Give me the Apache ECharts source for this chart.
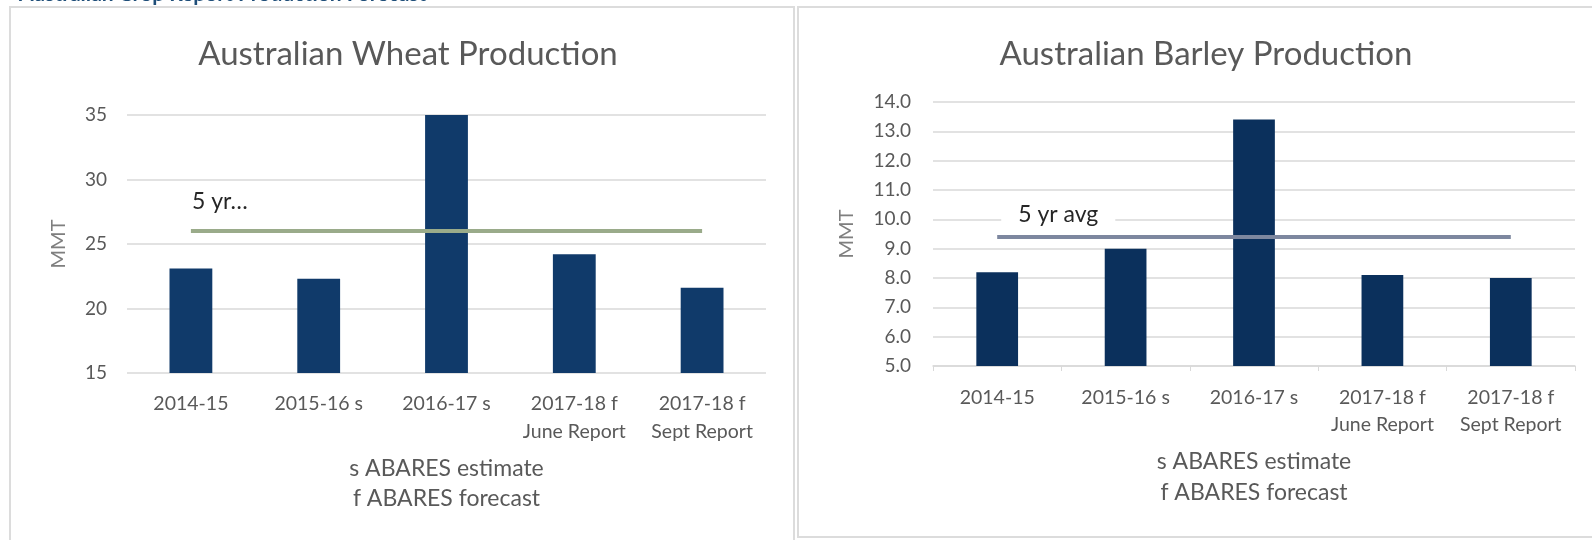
<!DOCTYPE html>
<html>
<head>
  <title>Australian Wheat and Barley Production</title>
  <meta http-equiv="Content-Type" content="text/html; charset=utf-8">
  <script src="https://cdn.jsdelivr.net/npm/echarts@6/dist/echarts.min.js"></script>
  <style>
    body { margin: 0; background: #fff; }
  </style>
</head>
<body>
  <div id="chart" style="width: 1592px;height:540px;"></div>
  <script type="application/javascript">
      var categories = ['2014-15', '2015-16 s', '2016-17 s', '2017-18 f\nJune Report', '2017-18 f\nSept Report'];
      var wheatValues = [23.1, 22.3, 35.0, 24.2, 21.6];
      var wheatAvg = [26.0, 26.0, 26.0, 26.0, 26.0];
      var barleyValues = [8.2, 9.0, 13.4, 8.1, 8.0];
      var barleyAvg = [9.4, 9.4, 9.4, 9.4, 9.4];
      var wheatLabel = '5 yr…';
      var barleyLabel = '5 yr avg';
      var footnote = 's ABARES estimate\nf ABARES forecast';

      var font = 'Lato, "Open Sans", sans-serif';
      var grey = '#595959';

      // only the first point of the average line carries the text
      function avgData(values, label) {
          return values.map(function (v, i) {
              if (i === 0) return { value: v, label: label };
              return v;
          });
      }

      var myChart = echarts.init(document.getElementById('chart'));
      myChart.setOption({
          animation: false,
          textStyle: { fontFamily: font },
          title: [
              {
                  text: 'Australian Crop Report Production Forecast',
                  left: 14, top: -21,
                  textStyle: { fontSize: 21, fontWeight: 'bold', color: '#1f4e79', fontFamily: font }
              },
              {
                  text: 'Australian Wheat Production',
                  left: 403, top: 33, textAlign: 'center',
                  textStyle: { fontSize: 33, fontWeight: 'normal', color: grey, fontFamily: font }
              },
              {
                  text: 'Australian Barley Production',
                  left: 1201, top: 33, textAlign: 'center',
                  textStyle: { fontSize: 33, fontWeight: 'normal', color: grey, fontFamily: font }
              }
          ],
          graphic: [
              { type: 'rect', shape: { x: 10, y: 7, width: 784, height: 560 },
                style: { fill: 'none', stroke: '#dcdcdc', lineWidth: 2 } },
              { type: 'rect', shape: { x: 798, y: 7, width: 830, height: 530 },
                style: { fill: 'none', stroke: '#dcdcdc', lineWidth: 2 } }
          ],
          grid: [
              { left: 127, right: 826, top: 115, bottom: 167 },
              { left: 933, right: 17, top: 102, bottom: 174 }
          ],
          xAxis: [
              {
                  type: 'category', gridIndex: 0, data: categories,
                  axisLine: { show: false }, axisTick: { show: false },
                  axisLabel: { color: grey, fontSize: 19.5, lineHeight: 28, margin: 17, interval: 0 },
                  name: footnote, nameLocation: 'middle', nameGap: 81,
                  nameTextStyle: { color: grey, fontSize: 23, lineHeight: 30 }
              },
              {
                  type: 'category', gridIndex: 1, data: categories,
                  axisLine: { show: true, lineStyle: { color: '#d9d9d9', width: 1.5 } },
                  axisTick: { show: true, length: 5, interval: 0, lineStyle: { color: '#d9d9d9' } },
                  axisLabel: { color: grey, fontSize: 19.5, lineHeight: 27, margin: 18, interval: 0 },
                  name: footnote, nameLocation: 'middle', nameGap: 80,
                  nameTextStyle: { color: grey, fontSize: 23, lineHeight: 31 }
              }
          ],
          yAxis: [
              {
                  type: 'value', gridIndex: 0, min: 15, max: 35, interval: 5,
                  axisLabel: { color: grey, fontSize: 19, margin: 20 },
                  splitLine: { lineStyle: { color: '#d9d9d9', width: 1.5 } },
                  name: 'MMT', nameLocation: 'middle', nameGap: 58,
                  nameTextStyle: { color: '#7f7f7f', fontSize: 20 }
              },
              {
                  type: 'value', gridIndex: 1, min: 5, max: 14, interval: 1,
                  axisLabel: { color: grey, fontSize: 19, margin: 22,
                      formatter: function (v) { return v.toFixed(1); } },
                  splitLine: { lineStyle: { color: '#d9d9d9', width: 1.5 } },
                  name: 'MMT', nameLocation: 'middle', nameGap: 76,
                  nameTextStyle: { color: '#7f7f7f', fontSize: 20 }
              }
          ],
          series: [
              {
                  type: 'bar', xAxisIndex: 0, yAxisIndex: 0, data: wheatValues,
                  barWidth: '33.5%', itemStyle: { color: '#103a6a' }
              },
              {
                  type: 'line', xAxisIndex: 0, yAxisIndex: 0,
                  data: avgData(wheatAvg, {
                      show: true, formatter: wheatLabel, position: 'top', align: 'left',
                      distance: 17, offset: [1, 0], color: '#262626', fontSize: 23
                  }),
                  symbol: 'circle', symbolSize: 2, showSymbol: true,
                  itemStyle: { color: 'transparent' },
                  lineStyle: { color: '#9aab8a', width: 4 }, z: 3
              },
              {
                  type: 'bar', xAxisIndex: 1, yAxisIndex: 1, data: barleyValues,
                  barWidth: '32.5%', itemStyle: { color: '#0b305c' }
              },
              {
                  type: 'line', xAxisIndex: 1, yAxisIndex: 1,
                  data: avgData(barleyAvg, {
                      show: true, formatter: barleyLabel, position: 'top', align: 'left',
                      distance: 6, offset: [4, 0], color: '#262626', fontSize: 23,
                      backgroundColor: '#fff', padding: [4, 17]
                  }),
                  symbol: 'circle', symbolSize: 2, showSymbol: true,
                  itemStyle: { color: 'transparent' },
                  lineStyle: { color: '#7d879f', width: 4 }, z: 3
              }
          ]
      });
  </script>
</body>
</html>
